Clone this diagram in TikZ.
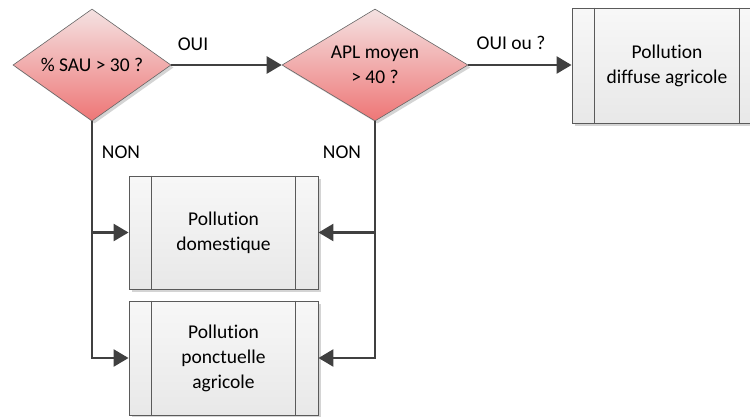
\documentclass[tikz,border=0pt]{standalone}
\usepackage{fontspec}
\setmainfont{Carlito}[Ligatures=NoCommon]
\usetikzlibrary{shapes.geometric,arrows.meta,shadows}
\definecolor{linec}{HTML}{404040}
\definecolor{boxborder}{HTML}{5A5A5A}
\definecolor{dtop}{HTML}{F4E2E2}
\definecolor{dbot}{HTML}{EE7676}
\definecolor{shadowc}{HTML}{D4D4D4}
\tikzset{
  decision/.style={shape=diamond, inner sep=0pt, draw=gray!80!black, line width=0.6pt,
    top color=dtop, bottom color=dbot, align=center,
    drop shadow={shadow xshift=2.5pt, shadow yshift=-2.5pt, fill=shadowc, opacity=1}},
  procbox/.style={shape=rectangle, draw=boxborder, line width=0.9pt,
    top color=white!97!black, bottom color=white!91!black, align=center,
    minimum width=189pt, minimum height=113pt, inner sep=0pt,
    drop shadow={shadow xshift=3pt, shadow yshift=-3pt, fill=shadowc, opacity=1}},
  arr/.style={draw=linec, line width=2.6pt, -{Triangle[length=15pt,width=17pt]}},
  lbl/.style={text=black},
}
\newcommand{\sidelines}[1]{%
  \draw[boxborder, line width=0.9pt] ([xshift=23pt]#1.north west) -- ([xshift=23pt]#1.south west);
  \draw[boxborder, line width=0.9pt] ([xshift=-23pt]#1.north east) -- ([xshift=-23pt]#1.south east);}
\begin{document}
\begin{tikzpicture}[x=1pt,y=-1pt, font=\fontsize{19.5}{25}\selectfont]
\useasboundingbox (0,0) rectangle (750,416);
\clip (0,0) rectangle (750,416);
\node[decision, aspect=1.41, minimum width=158pt, minimum height=112pt] (d1) at (92,65) {\% SAU > 30 ?};
\node[decision, aspect=1.66, minimum width=186pt, minimum height=112pt] (d2) at (375,65) {APL moyen\\> 40 ?};
\node[procbox, minimum width=190pt, minimum height=115pt] (b3) at (667,65.5) {Pollution\\diffuse agricole};
\node[procbox] (bd) at (223.5,232.5) {Pollution\\domestique};
\node[procbox, minimum height=114pt] (bp) at (223.5,358) {Pollution\\ponctuelle\\agricole};
\sidelines{b3}
\sidelines{bd}
\sidelines{bp}
\draw[arr] (d1.east) -- (d2.west);
\draw[arr] (d2.east) -- (b3.west |- d2.east);
\draw[arr] (d1.south) |- (bd.west);
\draw[arr] (d1.south) |- (bp.west);
\draw[arr] (d2.south) |- (bd.east);
\draw[arr] (d2.south) |- (bp.east);
\node[lbl] (l1) at (193,44) {OUI};
\node[lbl] (l2) at (511,43) {OUI ou ?};
\node[lbl] (l3) at (121,152) {NON};
\node[lbl] (l4) at (342,152) {NON};
\end{tikzpicture}
\end{document}
